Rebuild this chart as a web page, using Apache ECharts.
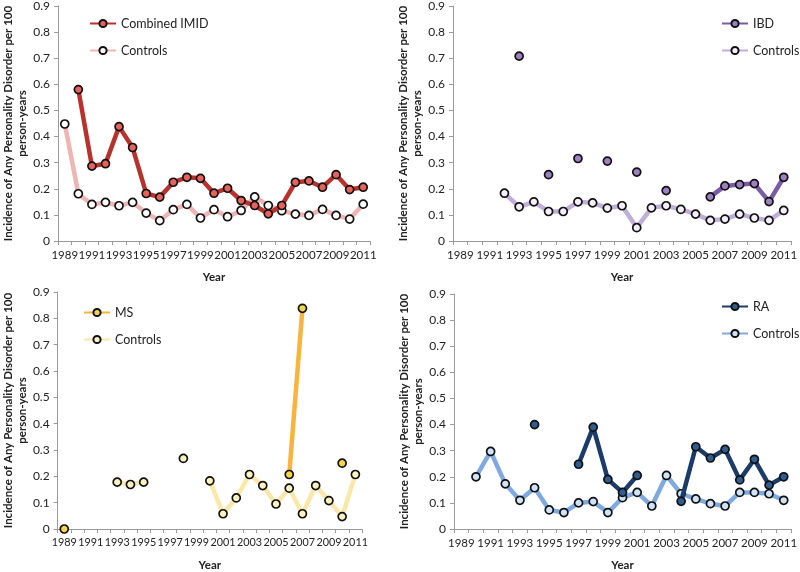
<!DOCTYPE html>
<html>
<head>
<meta charset="utf-8">
<script src="https://cdn.jsdelivr.net/npm/echarts@6/dist/echarts.min.js"></script>
<style>html,body{margin:0;padding:0;background:#fff}#c{width:800px;height:572px}</style>
</head>
<body>
<div id="c"></div>
<script>
const years = ['1989','1990','1991','1992','1993','1994','1995','1996','1997','1998','1999','2000','2001','2002','2003','2004','2005','2006','2007','2008','2009','2010','2011'];
const yTicks = [0,0.1,0.2,0.3,0.4,0.5,0.6,0.7,0.8,0.9];

const imid     = [null,0.58,0.287,0.296,0.438,0.358,0.182,0.168,0.225,0.244,0.24,0.183,0.202,0.155,0.136,0.104,0.136,0.225,0.23,0.206,0.254,0.197,0.206];
const imidCtrl = [0.448,0.181,0.14,0.148,0.135,0.148,0.107,0.078,0.12,0.14,0.088,0.12,0.093,0.117,0.169,0.136,0.116,0.103,0.098,0.121,0.098,0.084,0.141];

const ibd      = [null,null,null,null,0.708,null,0.254,null,0.316,null,0.306,null,0.264,null,0.193,null,null,0.169,0.211,0.216,0.22,0.151,0.244];
const ibdCtrl  = [null,null,null,0.183,0.131,0.15,0.113,0.113,0.15,0.146,0.126,0.135,0.051,0.127,0.135,0.121,0.103,0.079,0.084,0.103,0.088,0.079,0.117];

const ms       = [0,null,null,null,null,null,null,null,null,null,null,null,null,null,null,null,null,0.207,0.838,null,null,0.25,null];
const msCtrl   = [null,null,null,null,0.178,0.169,0.178,null,null,0.268,null,0.183,0.058,0.118,0.207,0.165,0.095,0.155,0.058,0.165,0.108,0.047,0.207];

const ra       = [null,null,null,null,null,0.4,null,null,0.248,0.39,0.19,0.14,0.205,null,null,0.106,0.315,0.272,0.305,0.188,0.267,0.168,0.2];
const raCtrl   = [null,0.2,0.297,0.173,0.11,0.158,0.073,0.063,0.1,0.105,0.063,0.12,0.14,0.088,0.205,0.135,0.115,0.097,0.088,0.14,0.14,0.135,0.11];

const yName = 'Incidence of Any Personality Disorder per 100\nperson-years';
const FONT = 'Lato';

const grids = [
  {left:58, top:5, width:312, height:236},
  {left:453, top:5, width:342, height:236},
  {left:57, top:292, width:305, height:240},
  {left:454, top:294, width:340, height:238}
];
const xFont = [11.5, 11.5, 10.8, 11.5];

function xAxis(i){
  return {
    type:'category', gridIndex:i, data:years, boundaryGap:true,
    name:'Year', nameLocation:'middle', nameGap:30,
    nameTextStyle:{fontFamily:FONT, fontWeight:'bold', fontSize:11.5, color:'#222'},
    axisLine:{lineStyle:{color:'#9a9a9a', width:1}},
    axisTick:{show:true, interval:0, alignWithLabel:false, length:4, lineStyle:{color:'#9a9a9a'}},
    axisLabel:{interval:1, showMinLabel:true, showMaxLabel:true, hideOverlap:false,
      fontFamily:FONT, fontSize:xFont[i], color:'#222', margin:8},
    splitLine:{show:false}
  };
}
function yAxis(i){
  return {
    type:'value', gridIndex:i, min:yTicks[0], max:yTicks[yTicks.length-1], interval:0.1,
    name:yName, nameLocation:'middle', nameRotate:90, nameGap:21,
    nameTextStyle:{fontFamily:FONT, fontWeight:'bold', fontSize:11.5, color:'#222', lineHeight:14},
    axisLine:{show:true, lineStyle:{color:'#9a9a9a', width:1}},
    axisTick:{show:true, length:4, lineStyle:{color:'#9a9a9a'}},
    axisLabel:{fontFamily:FONT, fontSize:12, color:'#222', margin:8,
      formatter:v=>String(Math.round(v*10)/10)},
    splitLine:{show:false}
  };
}
function line(name, i, data, lineColor, fill, z){
  return {
    name:name, type:'line', xAxisIndex:i, yAxisIndex:i, data:data,
    connectNulls:false, showSymbol:true, symbol:'circle', symbolSize:8,
    lineStyle:{color:lineColor, width:4.5},
    itemStyle:{color:fill, borderColor:'#111', borderWidth:1.7},
    emphasis:{disabled:true}, animation:false, z:z
  };
}
function legend(names, pos){
  return Object.assign({
    orient:'vertical', data:names, itemWidth:26, itemHeight:9, itemGap:14,
    textStyle:{fontFamily:FONT, fontSize:12.5, color:'#222'},
    formatter:n=>n.split('#')[0], selectedMode:false
  }, pos);
}

const option = {
  animation:false,
  grid:grids,
  xAxis:[0,1,2,3].map(xAxis),
  yAxis:[0,1,2,3].map(yAxis),
  legend:[
    legend(['Combined IMID','Controls#1'], {left:84, top:12}),
    legend(['IBD','Controls#2'], {left:716, top:12}),
    legend(['MS','Controls#3'], {left:78, top:301}),
    legend(['RA','Controls#4'], {left:716, top:295})
  ],
  series:[
    line('Combined IMID',0,imid,'#b8322d','#e8625c',3),
    line('Controls#1',0,imidCtrl,'#efb4b4','#ffffff',2),
    line('IBD',1,ibd,'#7a5ca6','#9c80c2',3),
    line('Controls#2',1,ibdCtrl,'#bfaed8','#f5f0fb',2),
    line('MS',2,ms,'#f6b53d','#f7d64a',3),
    line('Controls#3',2,msCtrl,'#fbe7a8','#fdf3c2',2),
    line('RA',3,ra,'#1b3b68','#2e5d92',3),
    line('Controls#4',3,raCtrl,'#80aadf','#cfe4f7',2)
  ]
};
const chart = echarts.init(document.getElementById('c'), null, {renderer:'canvas'});
chart.setOption(option);
</script>
</body>
</html>
